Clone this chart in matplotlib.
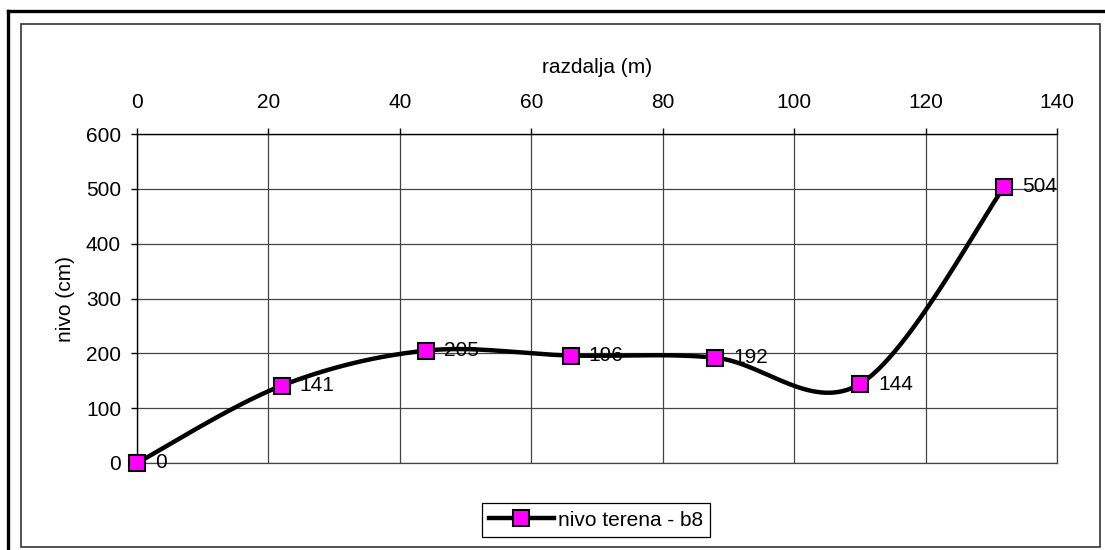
import numpy as np
import matplotlib
matplotlib.use("Agg")
import matplotlib.pyplot as plt
from matplotlib.lines import Line2D
from matplotlib.patches import Rectangle

plt.rcParams['font.family'] = ['Liberation Sans', 'DejaVu Sans']

# razdalja (m) and nivo terena (cm)
razdalja = [0, 22, 44, 66, 88, 110, 132]
nivo = [0, 141, 205, 196, 192, 144, 504]
x_ticks = [0, 20, 40, 60, 80, 100, 120, 140]
y_ticks = [0, 100, 200, 300, 400, 500, 600]


def smooth(xs, ys, n=60):
    # excel style smoothed line: cubic bezier with catmull-rom control points
    p = np.column_stack([xs, ys]).astype(float)
    p = np.vstack([p[0], p, p[-1]])
    out = []
    t = np.linspace(0, 1, n)[:, None]
    for i in range(1, len(p) - 2):
        p0 = p[i]
        p3 = p[i + 1]
        c1 = p0 + (p[i + 1] - p[i - 1]) / 6
        c2 = p3 - (p[i + 2] - p[i]) / 6
        seg = (1 - t) ** 3 * p0 + 3 * (1 - t) ** 2 * t * c1 + 3 * (1 - t) * t ** 2 * c2 + t ** 3 * p3
        out.append(seg)
    out = np.vstack(out)
    return out[:, 0], out[:, 1]


W, H = 1105, 550
FS = 15
fig = plt.figure(figsize=(W / 100, H / 100), dpi=100)

# frames
fig.add_artist(Line2D([8 / W, 1.0], [1 - 11 / H, 1 - 11 / H], color='black', lw=2.4, transform=fig.transFigure))
fig.add_artist(Line2D([8 / W, 8 / W], [1 - 11 / H, 0], color='black', lw=2.4, transform=fig.transFigure))
fig.add_artist(Rectangle((21 / W, 1 - 547 / H), (1100 - 21) / W, (547 - 24) / H, fill=False,
                         edgecolor='#333333', lw=1.2, transform=fig.transFigure))

ax = fig.add_axes([137 / W, 1 - 463 / H, (1057 - 137) / W, (463 - 134) / H])
ax.set_xlim(0, 140)
ax.set_ylim(0, 600)
ax.set_xticks(x_ticks)
ax.set_yticks(y_ticks)
ax.xaxis.tick_top()
ax.xaxis.set_label_position('top')
ax.tick_params(axis='both', direction='out', length=4.5, width=1, labelsize=FS, colors='black')
ax.tick_params(axis='x', pad=11)
ax.tick_params(axis='y', pad=7)
ax.grid(True, color='#444444', lw=0.9)
ax.set_axisbelow(True)
for s in ['right', 'bottom']:
    ax.spines[s].set_color('#444444')
    ax.spines[s].set_linewidth(0.9)
for s in ['left', 'top']:
    ax.spines[s].set_color('black')
    ax.spines[s].set_linewidth(1.0)

ax.set_xlabel('razdalja (m)', fontsize=FS, labelpad=15)
ax.set_ylabel('nivo (cm)', fontsize=FS, labelpad=8)

sx, sy = smooth(razdalja, nivo)
ax.plot(sx, sy, color='black', lw=3.2, solid_capstyle='round', clip_on=False, zorder=3)
ax.plot(razdalja, nivo, ls='none', marker='s', markersize=12, markerfacecolor='#FF00FF',
        markeredgecolor='black', markeredgewidth=1.5, clip_on=False, zorder=4)

for xv, yv in zip(razdalja, nivo):
    ax.annotate(str(yv), (xv, yv), xytext=(13, 0), textcoords='offset points',
                va='center', ha='left', fontsize=FS, zorder=5)

handle = Line2D([], [], color='black', lw=3.2, marker='s', markersize=12, markerfacecolor='#FF00FF',
                markeredgecolor='black', markeredgewidth=1.5)
leg = fig.legend([handle], ['nivo terena - b8'], loc='center', bbox_to_anchor=(596 / W, 1 - 520 / H),
                 fontsize=FS, frameon=True, fancybox=False, edgecolor='black', framealpha=1,
                 handlelength=3.1, handletextpad=0.2, borderpad=0.35, borderaxespad=0)
leg.get_frame().set_linewidth(0.9)

fig.savefig('out.png', dpi=100)
